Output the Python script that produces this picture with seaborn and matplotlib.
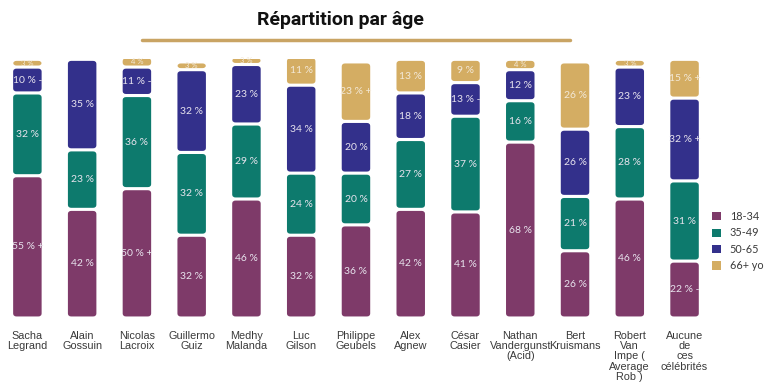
import numpy as np
import pandas as pd
import matplotlib
matplotlib.use("Agg")
import matplotlib.pyplot as plt
import seaborn as sns
from matplotlib.patches import FancyBboxPatch, Patch

# Données
noms = ['Sacha\nLegrand', 'Alain\nGossuin', 'Nicolas\nLacroix', 'Guillermo\nGuiz',
        'Medhy\nMalanda', 'Luc\nGilson', 'Philippe\nGeubels', 'Alex\nAgnew',
        'César\nCasier', 'Nathan\nVandergunst\n(Acid)', 'Bert\nKruismans',
        'Robert\nVan\nImpe (\nAverage\nRob )', 'Aucune\nde\nces\ncélébrités']
age_18_34 = [55, 42, 50, 32, 46, 32, 36, 42, 41, 68, 26, 46, 22]
age_35_49 = [32, 23, 36, 32, 29, 24, 20, 27, 37, 16, 21, 28, 31]
age_50_65 = [10, 35, 11, 32, 23, 34, 20, 18, 13, 12, 26, 23, 32]
age_66_plus = [3, 0, 4, 3, 3, 11, 23, 13, 9, 4, 26, 3, 15]
# suffixes "+" / "-" affichés à côté de certains pourcentages
suffixes = {
    ('18-34', 0): ' +', ('50-65', 0): ' -',
    ('18-34', 2): ' +', ('50-65', 2): ' -',
    ('66+ yo', 6): ' +', ('50-65', 8): ' -',
    ('66+ yo', 12): ' +', ('50-65', 12): ' +', ('18-34', 12): ' -',
}
groupes = ['18-34', '35-49', '50-65', '66+ yo']
couleurs = ['#7E3A69', '#0D7A6D', '#33308B', '#D4AD63']

series = [age_18_34, age_35_49, age_50_65, age_66_plus]

sns.set_theme(style='white')
plt.rcParams['font.family'] = ['Lato', 'DejaVu Sans']

fig = plt.figure(figsize=(7.68, 3.89), dpi=100)
ax = fig.add_axes([0.0, 0.1825, 0.927, 0.665])

df = pd.DataFrame({'nom': noms})
bas = np.zeros(len(noms))
for grp, vals, col in zip(groupes, series, couleurs):
    df['val'] = vals
    n_avant = len(ax.patches)
    sns.barplot(data=df, x='nom', y='val', color=col, width=0.52,
                bottom=bas.copy(), ax=ax, saturation=1, errorbar=None)
    nouveaux = ax.patches[n_avant:]
    for i, p in enumerate(nouveaux):
        p.set_visible(False)
        h = p.get_height()
        if h <= 0:
            continue
        x0, y0, w = p.get_x(), p.get_y(), p.get_width()
        # segment arrondi avec un petit espace blanc
        rb = FancyBboxPatch((x0, y0 + 0.6), w, h - 1.2,
                            boxstyle='round,pad=0,rounding_size=0.06',
                            mutation_aspect=20, facecolor=col,
                            edgecolor='none', zorder=3)
        ax.add_patch(rb)
        v = vals[i]
        txt = f"{v} %" + suffixes.get((grp, i), '')
        fs = 7.5 if v >= 6 else 5.5
        tcol = '#F3E9D8' if grp == '66+ yo' else '#E8E4EE'
        ax.text(x0 + w / 2, y0 + h / 2, txt, ha='center', va='center',
                fontsize=fs, color=tcol, zorder=4)
    bas = bas + np.array(vals)

ax.set_ylim(0, 100)
ax.set_xlim(-0.5, len(noms) - 0.5)
ax.set_xlabel('')
ax.set_ylabel('')
ax.set_yticks([])
ax.tick_params(axis='x', length=0, pad=9)
ax.set_xticks(range(len(noms)))
ax.set_xticklabels(noms, fontsize=7.8, color='#3A3A3A', va='top',
                   family=['Liberation Sans', 'DejaVu Sans'], linespacing=1.05)
for s in ax.spines.values():
    s.set_visible(False)

# Titre et trait doré
fig.text(0.443, 0.948, 'Répartition par âge', ha='center', va='center',
         fontsize=14, fontweight='bold', color='#111111', family=['Roboto', 'DejaVu Sans'])
fig.add_artist(plt.Line2D([0.185, 0.742], [0.897, 0.897], color='#C9A464',
                          linewidth=2.5, transform=fig.transFigure))

# Légende
poignees = [Patch(facecolor=c, edgecolor='none') for c in couleurs]
fig.legend(poignees, groupes, loc='center left', bbox_to_anchor=(0.915, 0.38),
           frameon=False, fontsize=7.8, handlelength=0.8, handleheight=0.8,
           handletextpad=0.8, labelspacing=0.5, labelcolor='#3A3A3A')

fig.savefig('out.png', dpi=100)
